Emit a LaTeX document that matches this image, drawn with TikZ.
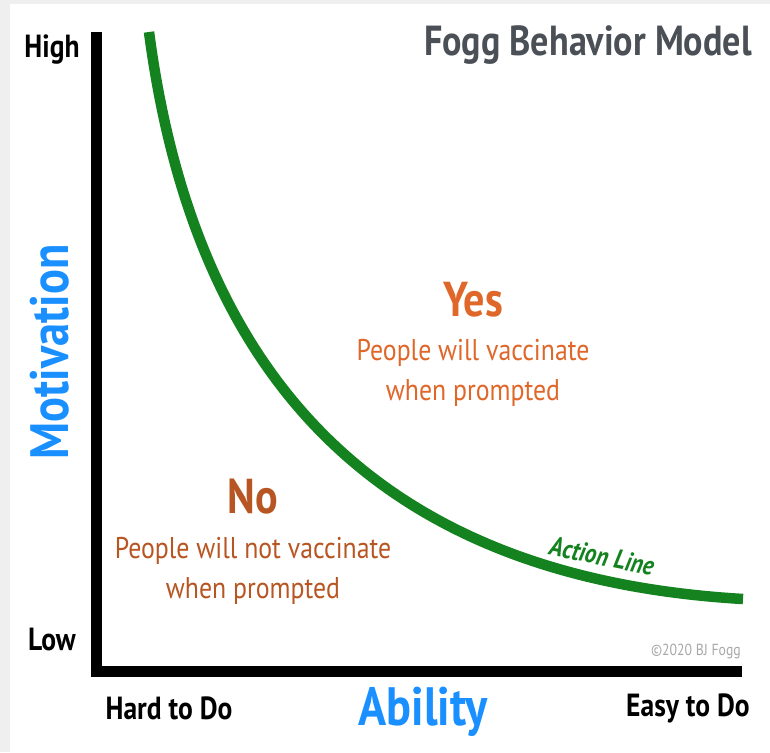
\documentclass[tikz,border=0pt]{standalone}
\usepackage{fontspec}
\setmainfont{PT Sans}
\newfontfamily\narrowfont[FakeStretch=0.86]{PT Sans}
\usetikzlibrary{arrows.meta}

\definecolor{actiongreen}{HTML}{13821F}
\definecolor{yesorange}{HTML}{E0672A}
\definecolor{nobrown}{HTML}{B85623}
\definecolor{axisblue}{HTML}{1A8FFF}
\definecolor{titlegray}{HTML}{4B5057}
\definecolor{notegray}{HTML}{A8A8A8}
\definecolor{framegray}{HTML}{EFEFEF}

\tikzset{
    lbl/.style={font=\narrowfont\bfseries, inner sep=0pt},
    axislbl/.style={lbl, text=axisblue, font=\narrowfont\bfseries\fontsize{54}{58}\selectfont},
    endlbl/.style={lbl, font=\narrowfont\bfseries\fontsize{32}{36}\selectfont},
    answer/.style={lbl, font=\narrowfont\bfseries\fontsize{49}{52}\selectfont},
    remark/.style={inner sep=0pt, align=center, font=\narrowfont\fontsize{30}{40}\selectfont}
}

\begin{document}
\begin{tikzpicture}[x=1pt,y=-1pt]

    % grey frame and white sheet
    \fill[framegray] (0,0) rectangle (770,752);
    \fill[white] (10,4) rectangle (770,752);
    \useasboundingbox (0,0) rectangle (770,752);

    % title
    \node[lbl, anchor=east, text=titlegray, font=\narrowfont\bfseries\fontsize{42}{46}\selectfont] (title) at (752,45) {Fogg Behavior Model};

    % draw axes
    \draw[line width=11pt, line join=miter] (96,32) -- (96,671) -- (742,671);

    % axis labels
    \node[endlbl] (high) at (52,50) {High};
    \node[endlbl] (low) at (52,640) {Low};
    \node[endlbl] (hard) at (169,708) {Hard to Do};
    \node[endlbl] (easy) at (688,708) {Easy to Do};
    \node[axislbl] (ability) at (423,712) {Ability};
    \node[axislbl, rotate=90] (motivation) at (50,352) {Motivation};

    % action line
    \coordinate (top) at (149,32);
    \coordinate (bottom) at (743,599);
    \draw[actiongreen, line width=10.5pt] (top) .. controls (200,420) and (420,580) .. (bottom);
    \node[lbl, text=actiongreen, rotate=-11.5, font=\narrowfont\bfseries\itshape\fontsize{27}{30}\selectfont] (actionline) at (602,556) {Action Line};

    % yes / no regions
    \node[answer, text=yesorange] (yes) at (473,300) {Yes};
    \node[remark, text=yesorange] (yestext) at (473,373) {People will vaccinate\\when prompted};
    \node[answer, text=nobrown] (no) at (253,497) {No};
    \node[remark, text=nobrown] (notext) at (253,571) {People will not vaccinate\\when prompted};

    % copyright
    \node[inner sep=0pt, anchor=east, text=notegray, font=\narrowfont\fontsize{16}{18}\selectfont] (copy) at (741,651) {©2020 BJ Fogg};

\end{tikzpicture}
\end{document}
